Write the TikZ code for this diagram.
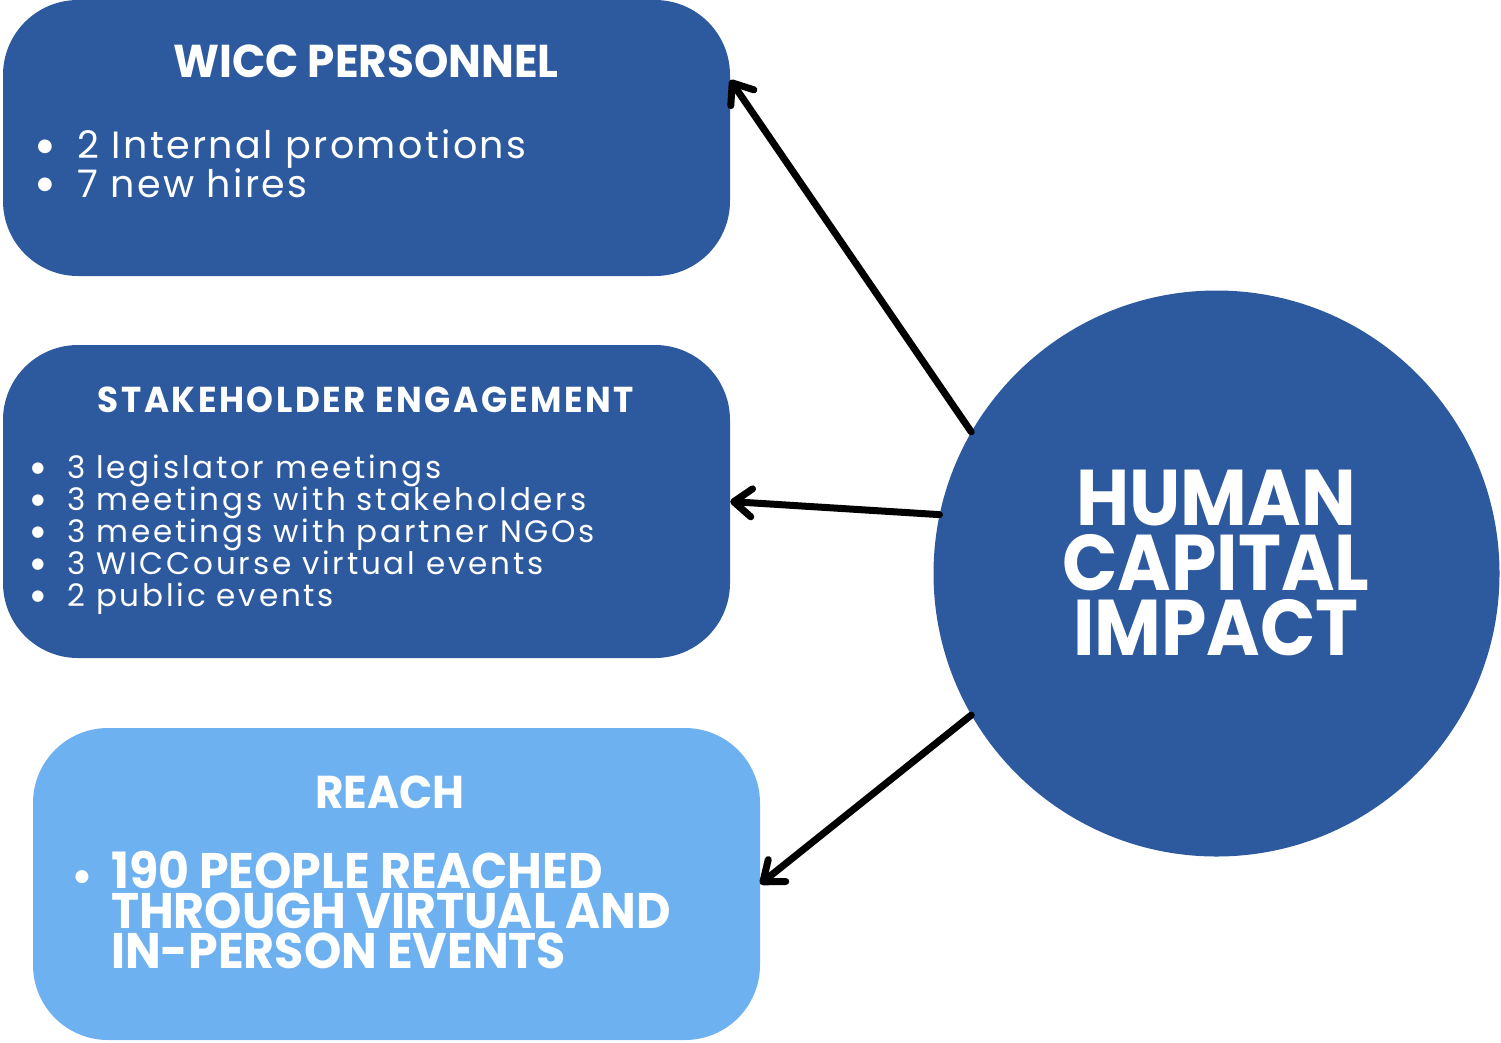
\documentclass[tikz,border=0pt]{standalone}
\usepackage{fontspec}
\setmainfont{Poppins}
\newfontfamily\titlefont{Poppins}[FakeStretch=0.95]
\newfontfamily\hubfont{Poppins}[FakeStretch=0.92]
\newfontfamily\bodyA{Poppins}[LetterSpace=6.3]
\newfontfamily\bodyB{Poppins}[LetterSpace=9]
\newfontfamily\stakefont{Poppins}[FakeStretch=0.95,LetterSpace=7]
\newfontfamily\dotfont{DejaVu Sans}
\usetikzlibrary{arrows.meta}
\definecolor{darkblue}{HTML}{2D5A9E}
\definecolor{lightblue}{HTML}{6EB1F1}
\tikzset{
  panel/.style={rounded corners=75pt, inner sep=0pt, minimum width=727pt, draw=none},
  hub/.style={circle, fill=darkblue, minimum size=566pt, inner sep=0pt},
  txt/.style={text=white, inner sep=0pt},
  ttlbig/.style={txt, anchor=base, font=\titlefont\bfseries\fontsize{46}{46}\selectfont},
  ttlmid/.style={txt, anchor=base, font=\stakefont\bfseries\fontsize{36}{36}\selectfont},
  itemA/.style={txt, anchor=base west, font=\bodyA\fontsize{38}{38}\selectfont},
  itemB/.style={txt, anchor=base west, font=\bodyB\fontsize{31}{31}\selectfont},
  itemC/.style={txt, anchor=base west, font=\titlefont\bfseries\fontsize{50}{50}\selectfont},
  bulA/.style={txt, anchor=center, font=\dotfont\fontsize{18}{18}\selectfont},
  bulB/.style={txt, anchor=center, font=\dotfont\fontsize{15}{15}\selectfont},
  bulC/.style={txt, anchor=center, font=\dotfont\fontsize{17}{17}\selectfont},
  hubtxt/.style={txt, anchor=base, font=\hubfont\bfseries\fontsize{79}{79}\selectfont},
  link/.style={line width=7pt, line cap=round, -{Straight Barb[length=18pt,width=28pt,round]}}
}
\begin{document}
\begin{tikzpicture}[x=1pt,y=-1pt]
\useasboundingbox (0,0) rectangle (1501,1042);
% panels
\node[panel, fill=darkblue, minimum height=276pt] (pers) at (366.5,138) {};
\node[panel, fill=darkblue, minimum height=313pt] (stake) at (366.5,501.5) {};
\node[panel, fill=lightblue, minimum height=312pt] (reach) at (396.5,884) {};
\node[hub] (hub) at (1216.5,573.5) {};
% panel 1
\node[ttlbig] (persT) at (366,77) {WICC PERSONNEL};
\node[bulA] (pb1) at (45,147) {●};
\node[itemA] (pi1) at (77,158) {2 Internal promotions};
\node[bulA] (pb2) at (45,185) {●};
\node[itemA] (pi2) at (77,197) {7 new hires};
% panel 2
\node[ttlmid] (stakeT) at (366,412) {STAKEHOLDER ENGAGEMENT};
\node[bulB] (sb1) at (38,469) {●};
\node[itemB] (si1) at (67,478) {3 legislator meetings};
\node[bulB] (sb2) at (38,501) {●};
\node[itemB] (si2) at (67,510) {3 meetings with stakeholders};
\node[bulB] (sb3) at (38,533) {●};
\node[itemB] (si3) at (67,542) {3 meetings with partner NGOs};
\node[bulB] (sb4) at (38,565) {●};
\node[itemB] (si4) at (67,574) {3 WICCourse virtual events};
\node[bulB] (sb5) at (38,597) {●};
\node[itemB] (si5) at (67,606) {2 public events};
% panel 3
\node[ttlbig] (reachT) at (390,808) {REACH};
\node[bulC] (rb1) at (82,877) {●};
\node[itemC] (ri1) at (111,888) {190 PEOPLE REACHED};
\node[itemC] (ri2) at (111,928) {THROUGH VIRTUAL AND};
\node[itemC] (ri3) at (111,968) {IN-PERSON EVENTS};
% hub text
\node[hubtxt] (h1) at (1216,525) {HUMAN};
\node[hubtxt] (h2) at (1216,590) {CAPITAL};
\node[hubtxt] (h3) at (1216,655) {IMPACT};
% connectors
\draw[link] (hub.150) -- ([yshift=58pt]pers.east);
\draw[link] (hub.168) -- (stake.east);
\draw[link] (hub.210.5) -- (reach.east);
\end{tikzpicture}
\end{document}
